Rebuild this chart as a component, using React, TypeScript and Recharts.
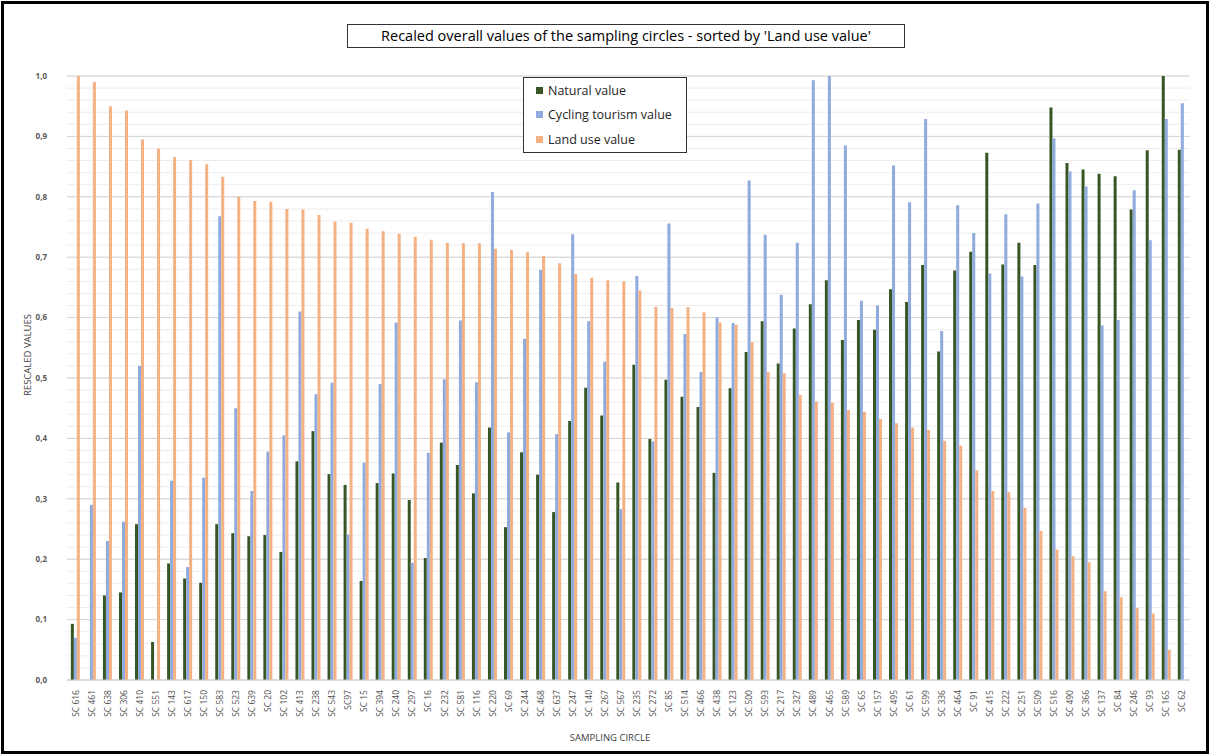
import { BarChart, Bar, XAxis, YAxis, CartesianGrid } from "recharts";

const categories = [
  "SC 616", "SC 461", "SC 638", "SC 306", "SC 410", "SC 551", "SC 143", "SC 617", "SC 150", "SC 583",
  "SC 523", "SC 639", "SC 20", "SC 102", "SC 413", "SC 238", "SC 543", "SC97", "SC 15", "SC 394",
  "SC 240", "SC 297", "SC 16", "SC 232", "SC 581", "SC 116", "SC 220", "SC 69", "SC 244", "SC 468",
  "SC 637", "SC 247", "SC 140", "SC 267", "SC 567", "SC 235", "SC 272", "SC 85", "SC 514", "SC 466",
  "SC 438", "SC 123", "SC 500", "SC 593", "SC 217", "SC 327", "SC 489", "SC 465", "SC 589", "SC 65",
  "SC 157", "SC 495", "SC 61", "SC 599", "SC 336", "SC 464", "SC 91", "SC 415", "SC 222", "SC 251",
  "SC 509", "SC 516", "SC 490", "SC 366", "SC 137", "SC 84", "SC 246", "SC 93", "SC 165", "SC 62",
];

const naturalValue = [
  0.093, 0, 0.14, 0.145, 0.258, 0.063, 0.193, 0.168, 0.161, 0.258,
  0.243, 0.238, 0.24, 0.212, 0.362, 0.412, 0.341, 0.323, 0.164, 0.326,
  0.342, 0.298, 0.202, 0.393, 0.356, 0.309, 0.418, 0.253, 0.377, 0.34,
  0.278, 0.429, 0.484, 0.438, 0.327, 0.522, 0.399, 0.497, 0.469, 0.452,
  0.343, 0.483, 0.543, 0.594, 0.524, 0.582, 0.622, 0.662, 0.563, 0.596,
  0.58, 0.647, 0.626, 0.687, 0.544, 0.678, 0.709, 0.873, 0.688, 0.724,
  0.687, 0.948, 0.856, 0.845, 0.838, 0.834, 0.779, 0.877, 1.0, 0.878,
];

const cyclingValue = [
  0.07, 0.29, 0.23, 0.262, 0.52, 0, 0.33, 0.187, 0.335, 0.768,
  0.45, 0.313, 0.378, 0.405, 0.61, 0.473, 0.492, 0.241, 0.36, 0.49,
  0.592, 0.194, 0.376, 0.498, 0.595, 0.493, 0.808, 0.41, 0.565, 0.679,
  0.407, 0.738, 0.594, 0.527, 0.283, 0.669, 0.395, 0.756, 0.573, 0.51,
  0.6, 0.591, 0.827, 0.737, 0.638, 0.724, 0.993, 1.0, 0.885, 0.628,
  0.62, 0.852, 0.791, 0.929, 0.578, 0.786, 0.74, 0.673, 0.771, 0.668,
  0.789, 0.897, 0.842, 0.817, 0.587, 0.596, 0.811, 0.728, 0.929, 0.955,
];

const landUseValue = [
  1.0, 0.99, 0.95, 0.943, 0.895, 0.88, 0.866, 0.861, 0.854, 0.833,
  0.8, 0.793, 0.792, 0.78, 0.779, 0.77, 0.759, 0.757, 0.747, 0.743,
  0.739, 0.734, 0.729, 0.724, 0.723, 0.723, 0.714, 0.712, 0.708, 0.702,
  0.69, 0.672, 0.666, 0.662, 0.66, 0.645, 0.618, 0.616, 0.617, 0.609,
  0.592, 0.588, 0.559, 0.51, 0.508, 0.472, 0.461, 0.459, 0.447, 0.444,
  0.432, 0.425, 0.418, 0.414, 0.396, 0.388, 0.347, 0.313, 0.311, 0.285,
  0.247, 0.216, 0.205, 0.195, 0.147, 0.137, 0.119, 0.11, 0.05, 0,
];

const yTicks = [0, 0.1, 0.2, 0.3, 0.4, 0.5, 0.6, 0.7, 0.8, 0.9, 1.0];
const minorGrid = Array.from({ length: 51 }, (_, i) => i * 0.02);

const seriesColors = {
  natural: "#375623",
  cycling: "#8faadc",
  landUse: "#f4b183",
};

const legendItems = [
  { label: "Natural value", color: seriesColors.natural },
  { label: "Cycling tourism value", color: seriesColors.cycling },
  { label: "Land use value", color: seriesColors.landUse },
];

const data = categories.map((name, i) => ({
  name,
  natural: naturalValue[i],
  cycling: cyclingValue[i],
  landUse: landUseValue[i],
}));

const FONT = "'Open Sans', 'Liberation Sans', sans-serif";

function XTick({ x, y, payload }: any) {
  const ty = y + 2;
  return (
    <text
      x={x}
      y={ty}
      transform={`rotate(-90 ${x} ${ty})`}
      textAnchor="end"
      dominantBaseline="central"
      fontSize={8.5}
      fontFamily={FONT}
      fill="#505050"
    >
      {payload.value}
    </text>
  );
}

function LegendBox() {
  return (
    <div
      style={{
        position: "absolute",
        left: 523,
        top: 77,
        width: 164,
        height: 76,
        border: "1px solid #333",
        background: "#fff",
        boxSizing: "border-box",
        padding: "0 0 0 12px",
        fontFamily: FONT,
        fontSize: 12.5,
        color: "#262626",
      }}
    >
      {legendItems.map((it) => (
        <div key={it.label} style={{ display: "flex", alignItems: "center", height: 24.5 }}>
          <span style={{ width: 7, height: 7, background: it.color, marginRight: 5 }} />
          {it.label}
        </div>
      ))}
    </div>
  );
}

export default function App() {
  return (
    <div style={{ position: "absolute", left: 0, top: 0, width: 1211, height: 756, background: "#fff" }}>
      <div style={{ position: "absolute", left: 0, top: 0 }}>
        <BarChart
          width={1211}
          height={756}
          data={data}
          margin={{ top: 76, right: 21, bottom: 36, left: 0 }}
          barCategoryGap="24%"
          barGap={0}
        >
          <CartesianGrid vertical={false} horizontalValues={minorGrid} stroke="#ededed" />
          <CartesianGrid vertical={false} horizontalValues={yTicks} stroke="#d4d4d4" />
          <XAxis
            dataKey="name"
            interval={0}
            height={40}
            tick={<XTick />}
            tickLine={false}
            axisLine={{ stroke: "#d0d0d0" }}
          />
          <YAxis
            width={67}
            domain={[0, 1]}
            ticks={yTicks}
            interval={0}
            tickFormatter={(v: number) => v.toFixed(1).replace(".", ",")}
            tick={{ fontSize: 8, fill: "#595959", fontWeight: 700, fontFamily: FONT }}
            axisLine={false}
            tickLine={false}
            tickMargin={14}
          />
          <Bar dataKey="natural" name="Natural value" fill={seriesColors.natural} isAnimationActive={false} />
          <Bar dataKey="cycling" name="Cycling tourism value" fill={seriesColors.cycling} isAnimationActive={false} />
          <Bar dataKey="landUse" name="Land use value" fill={seriesColors.landUse} isAnimationActive={false} />
        </BarChart>
      </div>
      <LegendBox />
      <div
        style={{
          position: "absolute",
          left: 1,
          top: 1,
          width: 1208,
          height: 753,
          border: "3px solid #000",
          boxSizing: "border-box",
        }}
      />
      <div
        style={{
          position: "absolute",
          left: 347,
          top: 24,
          width: 558,
          height: 24,
          border: "1px solid #333",
          boxSizing: "border-box",
          fontFamily: FONT,
          fontSize: 14.5,
          lineHeight: "22px",
          textAlign: "center",
          color: "#000",
          whiteSpace: "nowrap",
        }}
      >
        Recaled overall values of the sampling circles - sorted by 'Land use value'
      </div>
      <div
        style={{
          position: "absolute",
          left: 27,
          top: 355,
          transform: "translate(-50%, -50%) rotate(-90deg)",
          fontFamily: FONT,
          fontSize: 9.5,
          color: "#404040",
          whiteSpace: "nowrap",
        }}
      >
        RESCALED VALUES
      </div>
      <div
        style={{
          position: "absolute",
          left: 610,
          top: 737,
          transform: "translate(-50%, -50%)",
          fontFamily: FONT,
          fontSize: 9.5,
          color: "#404040",
          whiteSpace: "nowrap",
        }}
      >
        SAMPLING CIRCLE
      </div>
    </div>
  );
}
